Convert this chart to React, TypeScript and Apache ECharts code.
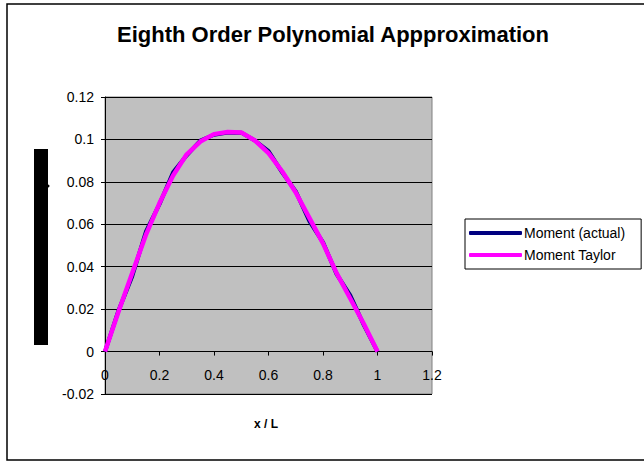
import React, { useEffect, useRef } from "react";
import * as echarts from "echarts";

const xPositions = [0, 0.05, 0.1, 0.15, 0.2, 0.25, 0.3, 0.35, 0.4, 0.45, 0.5, 0.55, 0.6, 0.65, 0.7, 0.75, 0.8, 0.85, 0.9, 0.95, 1.0];
const momentActual = [0, 0.0195, 0.0355, 0.0565, 0.0695, 0.0845, 0.0925, 0.0995, 0.1022, 0.1032, 0.1032, 0.0995, 0.0945, 0.0845, 0.0755, 0.0615, 0.0515, 0.0365, 0.0265, 0.0125, 0];
const momentTaylor = [0, 0.019, 0.037, 0.055, 0.07, 0.083, 0.093, 0.099, 0.1025, 0.1035, 0.1033, 0.0995, 0.0935, 0.085, 0.075, 0.063, 0.051, 0.037, 0.025, 0.013, 0];
const seriesNames = ["Moment (actual)", "Moment Taylor"];
const titleText = "Eighth Order Polynomial Appproximation";
const xAxisTitle = "x / L";

const FONT = "'Liberation Sans', Arial, sans-serif";

export default function App() {
  const ref = useRef<HTMLDivElement>(null);
  useEffect(() => {
    if (!ref.current) return;
    const chart = echarts.init(ref.current, null, { renderer: "svg" });
    const pair = (ys: number[]) => xPositions.map((x, i) => [x, ys[i]]);
    chart.setOption({
      animation: false,
      backgroundColor: "#ffffff",
      title: {
        text: titleText,
        left: 328,
        top: 18,
        textAlign: "center",
        textStyle: { fontFamily: FONT, fontSize: 22, fontWeight: "bold", color: "#000" },
      },
      legend: {
        orient: "vertical",
        left: 465,
        top: 219,
        padding: [7, 16, 7, 4],
        itemGap: 8,
        itemWidth: 53,
        itemHeight: 4,
        icon: "roundRect",
        borderColor: "#000",
        borderWidth: 1,
        backgroundColor: "#fff",
        textStyle: { fontFamily: FONT, fontSize: 14, color: "#000", padding: [0, 0, 0, -3] },
        data: seriesNames,
      },
      grid: {
        left: 105,
        top: 97,
        width: 327,
        height: 297,
        show: true,
        backgroundColor: "#C0C0C0",
        borderColor: "#808080",
        borderWidth: 1,
      },
      xAxis: {
        type: "value",
        min: 0,
        max: 1.2,
        interval: 0.2,
        axisLine: { onZero: true, lineStyle: { color: "#000", width: 1 } },
        axisTick: { show: true, inside: false, length: 4, lineStyle: { color: "#000" } },
        axisLabel: { fontFamily: FONT, fontSize: 14, color: "#000", margin: -26 },
        splitLine: { show: false },
      },
      yAxis: {
        type: "value",
        min: -0.02,
        max: 0.12,
        interval: 0.02,
        axisLine: { show: true, lineStyle: { color: "#000", width: 1 } },
        axisTick: { show: true, length: 4, lineStyle: { color: "#000" } },
        axisLabel: { fontFamily: FONT, fontSize: 14, color: "#000", margin: 11 },
        splitLine: { show: true, lineStyle: { color: "#000", width: 1 } },
      },
      graphic: [
        {
          type: "rect",
          shape: { x: 7, y: 4, width: 660, height: 456 },
          style: { fill: "none", stroke: "#000", lineWidth: 1.5 },
          silent: true,
          z: 100,
        },
        {
          type: "rect",
          shape: { x: 34, y: 149, width: 14, height: 196 },
          style: { fill: "#000" },
          silent: true,
        },
        {
          type: "circle",
          shape: { cx: 48, cy: 186, r: 1.5 },
          style: { fill: "#000" },
          silent: true,
        },
        {
          type: "text",
          x: 266,
          y: 424,
          style: {
            text: xAxisTitle,
            fontFamily: FONT,
            fontSize: 12,
            fontWeight: "bold",
            fill: "#000",
            align: "center",
            verticalAlign: "middle",
          },
        },
      ],
      series: [
        {
          name: seriesNames[0],
          type: "line",
          data: pair(momentActual),
          showSymbol: false,
          symbol: "none",
          color: "#000080",
          lineStyle: { color: "#000080", width: 4 },
          z: 2,
        },
        {
          name: seriesNames[1],
          type: "line",
          data: pair(momentTaylor),
          showSymbol: false,
          symbol: "none",
          color: "#FF00FF",
          lineStyle: { color: "#FF00FF", width: 4.5 },
          z: 3,
        },
      ],
    });
    return () => chart.dispose();
  }, []);
  return <div ref={ref} style={{ width: 644, height: 462, position: "absolute", left: 0, top: 0 }} />;
}
